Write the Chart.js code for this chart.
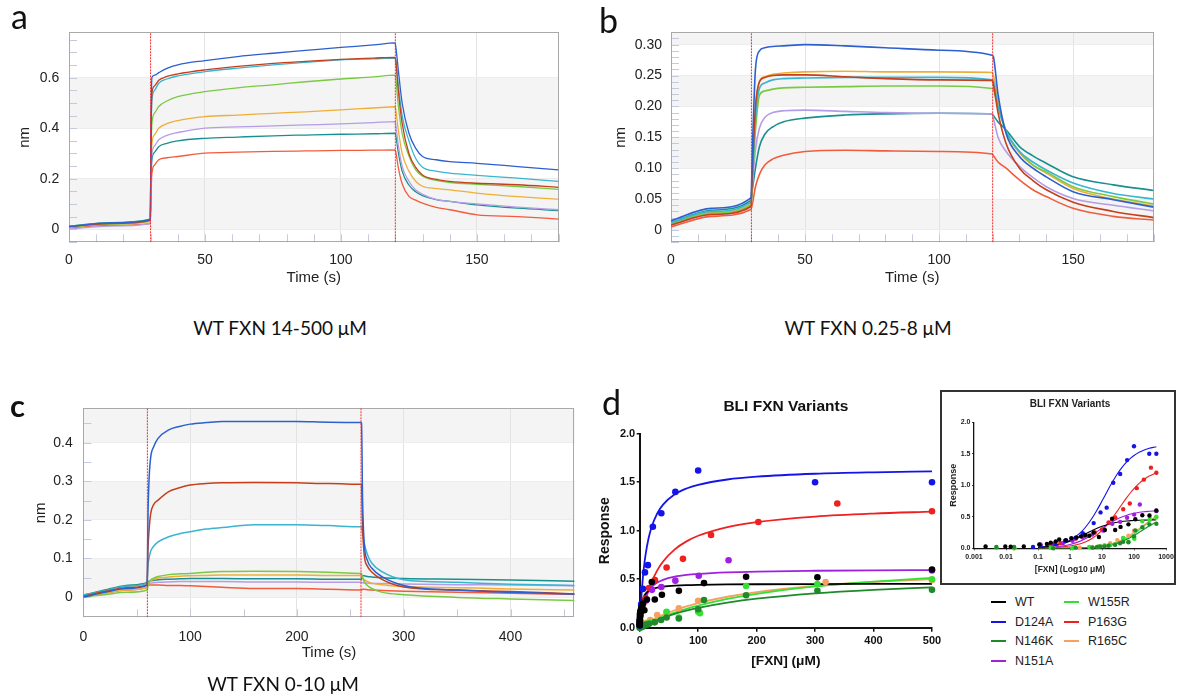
<!DOCTYPE html>
<html>
<head>
<meta charset="utf-8">
<script src="https://cdn.jsdelivr.net/npm/chart.js@4.4.1/dist/chart.umd.min.js"></script>
<style>
html,body{margin:0;padding:0;background:#fff;}
#root{position:relative;width:1177px;height:697px;overflow:hidden;background:#fff;font-family:'Liberation Sans',Arial,sans-serif;}
canvas{position:absolute;}
.letter{position:absolute;font-family:Lato,'Open Sans',sans-serif;line-height:1;color:#111;}
.cap{position:absolute;width:400px;text-align:center;font-family:Lato,'Open Sans',sans-serif;font-size:19px;line-height:1;color:#111;}
#insetbox{position:absolute;left:940px;top:390px;width:236px;height:195px;box-sizing:border-box;border:2px solid #333;background:#fff;z-index:1;}
#cInset{z-index:2;}
.legitem{position:absolute;height:16px;display:flex;align-items:center;font-family:'Liberation Sans',Arial,sans-serif;font-size:12.5px;color:#222;white-space:nowrap;}
.legline{display:inline-block;width:15px;height:2px;margin-right:9px;}
</style>
</head>
<body>
<div id="root">
  <canvas id="cA" width="590" height="300" style="left:0;top:0"></canvas>
  <canvas id="cB" width="587" height="300" style="left:590px;top:0"></canvas>
  <canvas id="cC" width="590" height="300" style="left:0;top:380px"></canvas>
  <canvas id="cD" width="370" height="310" style="left:590px;top:380px"></canvas>
  <div id="insetbox"></div>
  <canvas id="cInset" width="236" height="195" style="left:940px;top:390px"></canvas>
  <div id="legend"></div>
  <div class="letter" style="left:11px;top:-1px;font-size:34px">a</div>
  <div class="letter" style="left:599px;top:3px;font-size:34px">b</div>
  <div class="letter" style="left:10px;top:390px;font-size:31px;font-weight:bold">c</div>
  <div class="letter" style="left:602px;top:385px;font-size:34px">d</div>
  <div class="cap" style="left:80px;top:318px">WT FXN 14-500 μM</div>
  <div class="cap" style="left:668px;top:318px">WT FXN 0.25-8 μM</div>
  <div class="cap" style="left:83px;top:674px">WT FXN 0-10 μM</div>
</div>
<script>
// ---------------- Panel a data (time in s, response in nm) ----------------
const timeA = [0, 15, 29.9, 30.2, 30.5, 31.5, 33, 36, 40, 50, 62, 75, 87, 100, 112, 119.9, 120.2, 121, 122.5, 125, 127.5, 130, 135, 140, 150, 165, 180];
const aBlue     = [0.01, 0.025, 0.038, 0.45, 0.602, 0.61, 0.62, 0.637, 0.651, 0.668, 0.684, 0.697, 0.708, 0.72, 0.73, 0.738, 0.72, 0.64, 0.5, 0.38, 0.32, 0.288, 0.275, 0.268, 0.261, 0.248, 0.235];
const aBrown    = [0.01, 0.022, 0.035, 0.4, 0.54, 0.568, 0.59, 0.605, 0.615, 0.631, 0.645, 0.657, 0.665, 0.673, 0.678, 0.681, 0.665, 0.56, 0.42, 0.30, 0.245, 0.215, 0.197, 0.189, 0.182, 0.176, 0.166];
const aCyan     = [0.012, 0.024, 0.036, 0.38, 0.512, 0.55, 0.578, 0.595, 0.607, 0.624, 0.638, 0.651, 0.661, 0.671, 0.675, 0.678, 0.665, 0.58, 0.45, 0.35, 0.28, 0.245, 0.23, 0.222, 0.213, 0.202, 0.189];
const aGreen    = [0.008, 0.02, 0.033, 0.3, 0.42, 0.46, 0.486, 0.508, 0.525, 0.545, 0.56, 0.572, 0.584, 0.595, 0.603, 0.61, 0.595, 0.50, 0.38, 0.29, 0.235, 0.21, 0.193, 0.185, 0.178, 0.169, 0.158];
const aOrange   = [0.008, 0.02, 0.03, 0.25, 0.34, 0.375, 0.40, 0.418, 0.43, 0.446, 0.452, 0.459, 0.465, 0.473, 0.48, 0.485, 0.47, 0.40, 0.30, 0.23, 0.19, 0.17, 0.161, 0.156, 0.143, 0.129, 0.119];
const aLavender = [0.0, 0.012, 0.022, 0.22, 0.30, 0.33, 0.354, 0.372, 0.383, 0.40, 0.405, 0.409, 0.413, 0.417, 0.422, 0.426, 0.41, 0.34, 0.25, 0.19, 0.155, 0.138, 0.118, 0.11, 0.1, 0.087, 0.077];
const aTeal     = [0.012, 0.026, 0.04, 0.2, 0.275, 0.305, 0.327, 0.34, 0.35, 0.36, 0.365, 0.37, 0.373, 0.376, 0.378, 0.38, 0.37, 0.31, 0.23, 0.175, 0.148, 0.133, 0.117, 0.11, 0.096, 0.083, 0.074];
const aSalmon   = [0.005, 0.015, 0.022, 0.15, 0.222, 0.255, 0.275, 0.283, 0.288, 0.301, 0.305, 0.308, 0.31, 0.312, 0.313, 0.314, 0.305, 0.25, 0.18, 0.13, 0.115, 0.103, 0.086, 0.077, 0.057, 0.05, 0.04];
const stepsA = [30, 120];

// ---------------- Panel b data ----------------
const timeB = [0, 15, 29.8, 30.5, 31.5, 33, 35, 38, 42, 50, 65, 80, 100, 119.8, 120.3, 122, 125, 130, 135, 140, 150, 165, 180];
const bBlue     = [0.015, 0.035, 0.052, 0.15, 0.26, 0.29, 0.295, 0.297, 0.298, 0.300, 0.298, 0.295, 0.291, 0.283, 0.28, 0.22, 0.156, 0.119, 0.1, 0.086, 0.062, 0.049, 0.037];
const bOrange   = [0.01, 0.028, 0.042, 0.1, 0.19, 0.24, 0.248, 0.252, 0.254, 0.256, 0.257, 0.256, 0.256, 0.255, 0.25, 0.21, 0.16, 0.125, 0.105, 0.092, 0.067, 0.05, 0.039];
const bBrown    = [0.008, 0.025, 0.038, 0.11, 0.2, 0.24, 0.247, 0.25, 0.251, 0.251, 0.248, 0.245, 0.243, 0.242, 0.235, 0.19, 0.14, 0.1, 0.08, 0.065, 0.045, 0.03, 0.02];
const bCyan     = [0.012, 0.03, 0.045, 0.1, 0.18, 0.229, 0.238, 0.243, 0.245, 0.246, 0.247, 0.247, 0.247, 0.243, 0.24, 0.2, 0.16, 0.127, 0.11, 0.097, 0.076, 0.059, 0.05];
const bGreen    = [0.01, 0.027, 0.04, 0.09, 0.16, 0.218, 0.225, 0.228, 0.23, 0.231, 0.232, 0.233, 0.233, 0.229, 0.227, 0.2, 0.16, 0.127, 0.105, 0.094, 0.07, 0.054, 0.042];
const bLavender = [0.008, 0.025, 0.038, 0.08, 0.13, 0.165, 0.182, 0.19, 0.193, 0.194, 0.192, 0.19, 0.189, 0.188, 0.18, 0.15, 0.127, 0.103, 0.085, 0.07, 0.051, 0.04, 0.031];
const bTeal     = [0.012, 0.032, 0.048, 0.07, 0.1, 0.135, 0.155, 0.167, 0.175, 0.181, 0.186, 0.188, 0.189, 0.188, 0.185, 0.175, 0.162, 0.135, 0.12, 0.108, 0.086, 0.073, 0.064];
const bSalmon   = [0.005, 0.022, 0.033, 0.045, 0.07, 0.09, 0.105, 0.115, 0.121, 0.127, 0.129, 0.128, 0.127, 0.123, 0.12, 0.11, 0.1, 0.081, 0.065, 0.054, 0.035, 0.022, 0.016];
const stepsB = [30, 120];

// ---------------- Panel c data ----------------
const timeC = [0, 20, 40, 59.8, 60.5, 61.5, 63, 66, 70, 80, 90, 100, 115, 130, 160, 200, 230, 259.8, 260.5, 261.5, 263, 266, 270, 280, 300, 350, 400, 460];
const cBlue     = [0, 0.012, 0.022, 0.03, 0.2, 0.3, 0.36, 0.39, 0.411, 0.433, 0.442, 0.448, 0.452, 0.455, 0.455, 0.455, 0.453, 0.452, 0.45, 0.25, 0.14, 0.095, 0.075, 0.052, 0.03, 0.018, 0.012, 0.008];
const cBrown    = [0.002, 0.014, 0.024, 0.032, 0.12, 0.17, 0.215, 0.24, 0.251, 0.273, 0.283, 0.29, 0.294, 0.296, 0.297, 0.296, 0.294, 0.292, 0.29, 0.18, 0.11, 0.08, 0.065, 0.045, 0.026, 0.018, 0.014, 0.008];
const cCyan     = [0.005, 0.016, 0.028, 0.036, 0.08, 0.1, 0.118, 0.132, 0.143, 0.156, 0.164, 0.169, 0.176, 0.18, 0.187, 0.187, 0.185, 0.182, 0.182, 0.165, 0.14, 0.11, 0.088, 0.065, 0.045, 0.038, 0.033, 0.03];
const cGreen    = [0, 0.006, 0.012, 0.018, 0.03, 0.038, 0.044, 0.049, 0.053, 0.058, 0.06, 0.061, 0.064, 0.066, 0.067, 0.066, 0.064, 0.061, 0.061, 0.05, 0.04, 0.03, 0.022, 0.012, 0.006, -0.001, -0.005, -0.009];
const cOrange   = [0, 0.01, 0.018, 0.025, 0.033, 0.038, 0.042, 0.046, 0.049, 0.052, 0.054, 0.055, 0.056, 0.057, 0.057, 0.057, 0.056, 0.056, 0.056, 0.05, 0.045, 0.04, 0.036, 0.032, 0.027, 0.024, 0.021, 0.018];
const cTeal     = [0.005, 0.018, 0.03, 0.038, 0.04, 0.041, 0.042, 0.043, 0.045, 0.046, 0.047, 0.048, 0.048, 0.048, 0.047, 0.047, 0.046, 0.046, 0.046, 0.055, 0.055, 0.053, 0.052, 0.05, 0.048, 0.046, 0.044, 0.041];
const cLavender = [0.002, 0.012, 0.022, 0.03, 0.033, 0.035, 0.036, 0.037, 0.038, 0.039, 0.04, 0.04, 0.04, 0.04, 0.039, 0.039, 0.038, 0.038, 0.038, 0.037, 0.036, 0.036, 0.035, 0.035, 0.034, 0.032, 0.031, 0.029];
const cSalmon   = [0, 0.01, 0.018, 0.025, 0.03, 0.031, 0.031, 0.031, 0.031, 0.03, 0.03, 0.029, 0.027, 0.025, 0.022, 0.022, 0.02, 0.018, 0.018, 0.02, 0.02, 0.019, 0.018, 0.017, 0.015, 0.012, 0.01, 0.007];
const stepsC = [60, 260];

// ---------------- Panel d data ([FXN] in µM, response) ----------------
const variantNames = ['WT', 'D124A', 'N146K', 'N151A', 'W155R', 'P163G', 'R165C'];
const concWT    = [0.0023, 0.0095, 0.014, 0.036, 0.11, 0.19, 0.25, 0.36, 0.46, 0.75, 1.1, 1.6, 2.2, 3, 4, 5.5, 8, 12.3, 20.7, 25.8, 38, 67, 110, 182, 304, 500];
const respWT    = [0.03, 0.03, 0.025, 0.03, 0.06, 0.07, 0.09, 0.11, 0.14, 0.13, 0.16, 0.17, 0.19, 0.21, 0.2, 0.25, 0.18, 0.29, 0.47, 0.29, 0.34, 0.38, 0.46, 0.525, 0.52, 0.60];
const concD124A = [0.07, 0.12, 0.35, 0.7, 1.5, 2.5, 5.5, 9, 14, 22.5, 37, 61, 100, 300, 500];
const respD124A = [0.02, 0.04, 0.07, 0.12, 0.17, 0.24, 0.40, 0.57, 0.645, 1.04, 1.18, 1.40, 1.62, 1.50, 1.50];
const concN146K = [0.005, 0.018, 0.3, 1.5, 5, 7, 9, 12, 16, 25.8, 36.6, 46, 67, 100, 110, 182, 304, 500];
const respN146K = [0.02, 0.02, 0.0, 0.01, 0.01, 0.02, 0.03, 0.03, 0.04, 0.055, 0.08, 0.105, 0.095, 0.19, 0.285, 0.335, 0.38, 0.39];
const concN151A = [0.12, 0.3, 0.6, 1.2, 2.5, 5, 11, 21, 37, 61, 101, 152, 500];
const respN151A = [0.06, 0.07, 0.08, 0.12, 0.17, 0.22, 0.28, 0.39, 0.42, 0.485, 0.535, 0.695, 0.59];
const concW155R = [0.005, 0.018, 0.25, 1.2, 4, 8, 12, 18, 25, 46, 67, 100, 103, 182, 304, 500];
const respW155R = [0.01, 0.0, 0.01, 0.0, 0.02, 0.03, 0.04, 0.05, 0.06, 0.165, 0.105, 0.165, 0.15, 0.43, 0.45, 0.50];
const concP163G = [0.25, 0.5, 1.5, 3, 6, 10, 16, 26, 46, 74, 122, 203, 338, 500];
const respP163G = [0.05, 0.08, 0.15, 0.2, 0.25, 0.3, 0.41, 0.49, 0.62, 0.71, 0.955, 1.09, 1.28, 1.20];
const concR165C = [0.018, 0.3, 2, 5, 8, 12, 18, 30, 46, 67, 100, 318, 500];
const respR165C = [0.0, 0.01, 0.01, 0.02, 0.03, 0.05, 0.08, 0.13, 0.16, 0.2, 0.278, 0.47, 0.49];

// fitted curves, read at these concentrations
const curveConc = [0.1, 0.2, 0.5, 1, 2, 3, 5, 7, 10, 15, 20, 30, 40, 60, 80, 100, 150, 200, 300, 400, 500];
const fitWT    = [0.015, 0.028, 0.065, 0.114, 0.182, 0.228, 0.284, 0.319, 0.35, 0.379, 0.396, 0.414, 0.423, 0.433, 0.439, 0.442, 0.446, 0.448, 0.45, 0.451, 0.452];
const fitD124A = [0.014, 0.027, 0.066, 0.127, 0.236, 0.33, 0.485, 0.608, 0.75, 0.917, 1.031, 1.179, 1.269, 1.375, 1.435, 1.473, 1.528, 1.557, 1.587, 1.602, 1.611];
const fitN146K = [0.0003, 0.0006, 0.0016, 0.0032, 0.0063, 0.0094, 0.0156, 0.0215, 0.0303, 0.0442, 0.0574, 0.082, 0.104, 0.143, 0.176, 0.204, 0.258, 0.299, 0.354, 0.39, 0.415];
const fitN151A = [0.0066, 0.013, 0.032, 0.0605, 0.11, 0.151, 0.216, 0.265, 0.318, 0.378, 0.417, 0.465, 0.494, 0.526, 0.544, 0.555, 0.571, 0.579, 0.587, 0.592, 0.594];
const fitW155R = [0.0003, 0.0007, 0.0016, 0.0032, 0.0065, 0.0097, 0.016, 0.022, 0.031, 0.046, 0.06, 0.0865, 0.111, 0.155, 0.194, 0.227, 0.296, 0.349, 0.425, 0.476, 0.514];
const fitP163G = [0.0036, 0.0073, 0.018, 0.036, 0.069, 0.101, 0.16, 0.213, 0.284, 0.384, 0.465, 0.591, 0.683, 0.808, 0.89, 0.948, 1.038, 1.089, 1.146, 1.177, 1.196];
const fitR165C = [0.0004, 0.0008, 0.0021, 0.0041, 0.0081, 0.0121, 0.02, 0.0277, 0.0388, 0.0566, 0.0733, 0.104, 0.132, 0.18, 0.22, 0.254, 0.319, 0.367, 0.43, 0.471, 0.5];

// tick labels
const ticksTimeAB = [0, 50, 100, 150];
const ticksTimeC = [0, 100, 200, 300, 400];
const ticksNmA = [0, 0.2, 0.4, 0.6];
const ticksNmB = [0, 0.05, 0.10, 0.15, 0.20, 0.25, 0.30];
const ticksNmC = [0, 0.1, 0.2, 0.3, 0.4];
const ticksConc = [0, 100, 200, 300, 400, 500];
const ticksLogConc = [0.001, 0.01, 0.1, 1, 10, 100, 1000];
const ticksResp = [0, 0.5, 1.0, 1.5, 2.0];

// ---------------- styles ----------------
const traceColors = ['#2c5fcf', '#c4401c', '#3ab5cf', '#7ac943', '#efae3a', '#b49de6', '#198f8f', '#f25c3c'];
const variantColors = ['#000000', '#1414e6', '#1f8a2a', '#a020e0', '#33e033', '#ee2020', '#f5a060'];

Chart.defaults.font.family = "'Liberation Sans', Arial, Helvetica, sans-serif";
Chart.defaults.color = '#222';
Chart.defaults.animation = false;
Chart.defaults.events = [];
Chart.defaults.plugins.legend.display = false;
Chart.defaults.plugins.tooltip.enabled = false;

const decor = {
  id: 'decor',
  beforeDraw(chart, args, o) {
    if (!o || !o.on) return;
    const {ctx, chartArea: a} = chart;
    const y = chart.scales.y;
    ctx.save();
    ctx.fillStyle = o.bandColor;
    for (const [lo, hi] of o.bands) {
      const lo2 = Math.max(lo, y.min), hi2 = Math.min(hi, y.max);
      if (hi2 <= lo2) continue;
      const p1 = y.getPixelForValue(hi2), p0 = y.getPixelForValue(lo2);
      ctx.fillRect(a.left, p1, a.right - a.left, p0 - p1);
    }
    ctx.restore();
  },
  beforeDatasetsDraw(chart, args, o) {
    if (!o || !o.on) return;
    const {ctx, chartArea: a} = chart;
    const x = chart.scales.x, y = chart.scales.y;
    ctx.save();
    ctx.strokeStyle = o.minorColor;
    ctx.lineWidth = 1;
    ctx.beginPath();
    for (let k = Math.ceil(x.min / o.minorX); k * o.minorX <= x.max + 1e-9; k++) {
      const px = Math.round(x.getPixelForValue(k * o.minorX)) + 0.5;
      ctx.moveTo(px, a.bottom);
      ctx.lineTo(px, a.bottom - o.minorLen);
    }
    for (let k = Math.ceil(y.min / o.minorY); k * o.minorY <= y.max + 1e-9; k++) {
      const py = Math.round(y.getPixelForValue(k * o.minorY)) + 0.5;
      ctx.moveTo(a.left, py);
      ctx.lineTo(a.left + o.minorLen, py);
    }
    ctx.stroke();
    ctx.strokeStyle = o.frameColor;
    ctx.strokeRect(Math.round(a.left) + 0.5, Math.round(a.top) + 0.5, Math.round(a.right - a.left) - 1, Math.round(a.bottom - a.top) - 1);
    ctx.restore();
  }
};
Chart.register(decor);

function sensorChart(id, times, traces, steps, cfg) {
  const datasets = traces.map((ys, i) => ({
    data: times.map((t, j) => ({x: t, y: ys[j]})),
    borderColor: traceColors[i], borderWidth: cfg.lw, pointRadius: 0,
    cubicInterpolationMode: 'monotone', fill: false, order: 2
  }));
  // step markers (start of association / dissociation), drawn as dotted red verticals
  steps.forEach(t => datasets.push({
    data: [{x: t, y: cfg.yMin}, {x: t, y: cfg.yMax}],
    borderColor: 'rgb(245,45,45)', borderWidth: 1, borderDash: [2, 1], pointRadius: 0, fill: false, order: 1
  }));
  return new Chart(document.getElementById(id), {
    type: 'line',
    data: {datasets},
    options: {
      responsive: false, devicePixelRatio: 1,
      layout: {padding: cfg.padding},
      plugins: {decor: {on: true, bands: cfg.bands, bandColor: '#f4f4f4', minorX: cfg.minorX, minorY: cfg.minorY,
                        minorLen: 8, minorColor: '#c3cadb', frameColor: '#a9a9a9'}},
      scales: {
        x: {type: 'linear', min: cfg.xMin, max: cfg.xMax,
            afterFit: s => { s.height = cfg.xH; },
            afterBuildTicks: s => { s.ticks = cfg.xTicks.map(v => ({value: v})); },
            grid: {color: '#e3e3e3', drawTicks: false}, border: {display: false},
            ticks: {padding: cfg.xPad, autoSkip: false, maxRotation: 0, font: {size: 14}, color: '#222', callback: v => String(v)},
            title: {display: true, text: 'Time (s)', font: {size: 15}, color: '#222', padding: 0}},
        y: {type: 'linear', min: cfg.yMin, max: cfg.yMax,
            afterFit: s => { s.width = cfg.yW; },
            afterBuildTicks: s => { s.ticks = cfg.yTicks.map(v => ({value: v})); },
            grid: {color: '#ededed', drawTicks: false}, border: {display: false},
            ticks: {padding: cfg.yPad, autoSkip: false, font: {size: 14}, color: '#222', callback: cfg.yFmt},
            title: {display: true, text: 'nm', font: {size: 15}, color: '#222', padding: {top: cfg.yTitlePad, bottom: 0}}}
      }
    }
  });
}

sensorChart('cA', timeA, [aBlue, aBrown, aCyan, aGreen, aOrange, aLavender, aTeal, aSalmon], stepsA, {
  padding: {left: 0, top: 32.3, right: 31.5, bottom: 12.7}, xH: 45, yW: 69, lw: 1.3,
  xMin: 0, xMax: 180, xTicks: ticksTimeAB, yMin: -0.052, yMax: 0.78, yTicks: ticksNmA,
  yFmt: v => v === 0 ? '0' : v.toFixed(1), xPad: 9.6, yPad: 9.7, yTitlePad: 16,
  bands: [[0, 0.2], [0.4, 0.6]], minorX: 10, minorY: 0.05
});
sensorChart('cB', timeB, [bBlue, bBrown, bCyan, bGreen, bOrange, bLavender, bTeal, bSalmon], stepsB, {
  padding: {left: 0, top: 32.3, right: 23.5, bottom: 12.7}, xH: 45, yW: 81, lw: 1.6,
  xMin: 0, xMax: 180, xTicks: ticksTimeAB, yMin: -0.02, yMax: 0.32, yTicks: ticksNmB,
  yFmt: v => v === 0 ? '0' : v.toFixed(2), xPad: 9.6, yPad: 9, yTitlePad: 22.3,
  bands: [[0, 0.05], [0.1, 0.15], [0.2, 0.25], [0.3, 0.35]], minorX: 10, minorY: 0.01
});
sensorChart('cC', timeC, [cBlue, cBrown, cCyan, cGreen, cOrange, cLavender, cTeal, cSalmon], stepsC, {
  padding: {left: 0, top: 28.3, right: 15.4, bottom: 17.7}, xH: 45, yW: 83.3, lw: 1.5,
  xMin: 0, xMax: 460, xTicks: ticksTimeC, yMin: -0.0526, yMax: 0.489, yTicks: ticksNmC,
  yFmt: v => v === 0 ? '0' : v.toFixed(1), xPad: 11, yPad: 10.6, yTitlePad: 31.7,
  bands: [[0, 0.1], [0.2, 0.3], [0.4, 0.5]], minorX: 50, minorY: 0.05
});

// ---------------- Panel d ----------------
const concs = [concWT, concD124A, concN146K, concN151A, concW155R, concP163G, concR165C];
const resps = [respWT, respD124A, respN146K, respN151A, respW155R, respP163G, respR165C];
const fits = [fitWT, fitD124A, fitN146K, fitN151A, fitW155R, fitP163G, fitR165C];

function bindingDatasets(r, w) {
  const dots = variantNames.map((n, i) => ({
    type: 'scatter', label: n, data: concs[i].map((c, j) => ({x: c, y: resps[i][j]})),
    backgroundColor: variantColors[i], borderWidth: 0, pointRadius: r, showLine: false, clip: false, order: 1
  }));
  const lines = variantNames.map((n, i) => ({
    type: 'line', label: n + ' fit', data: curveConc.map((c, j) => ({x: c, y: fits[i][j]})),
    borderColor: variantColors[i], borderWidth: w, pointRadius: 0, showLine: true, fill: false,
    cubicInterpolationMode: 'monotone', order: 2
  }));
  return dots.concat(lines);
}

function axisStyle(tickLen, lw) {
  return {
    grid: {drawOnChartArea: false, drawTicks: true, tickLength: tickLen, color: '#111', lineWidth: lw},
    border: {color: '#111', width: lw + 0.5}
  };
}

new Chart(document.getElementById('cD'), {
  type: 'scatter',
  data: {datasets: bindingDatasets(3.3, 1.8)},
  options: {
    responsive: false, devicePixelRatio: 1,
    layout: {padding: {left: 0, top: 0, right: 28, bottom: 20.8}},
    plugins: {title: {display: true, text: 'BLI FXN Variants', fullSize: false, color: '#111',
                      font: {size: 15.5, weight: 'bold'}, padding: {top: 17.4, bottom: 17.7}}},
    scales: {
      x: Object.assign({type: 'linear', min: 0, max: 500,
          afterFit: s => { s.height = 41.5; },
          afterBuildTicks: s => { s.ticks = ticksConc.map(v => ({value: v})); },
          ticks: {padding: 2.7, autoSkip: false, maxRotation: 0, color: '#111', font: {size: 11, weight: 'bold'}},
          title: {display: true, text: '[FXN] (μM)', color: '#111', font: {size: 13.7, weight: 'bold'}, padding: 0}},
          axisStyle(4, 1.5)),
      y: Object.assign({type: 'linear', min: 0, max: 2,
          afterFit: s => { s.width = 49.7; },
          afterBuildTicks: s => { s.ticks = ticksResp.map(v => ({value: v})); },
          ticks: {padding: 1.5, autoSkip: false, color: '#111', font: {size: 11, weight: 'bold'}, callback: v => v.toFixed(1)},
          title: {display: true, text: 'Response', color: '#111', font: {size: 14, weight: 'bold'}, padding: {top: 6.9, bottom: 0}}},
          axisStyle(3, 1.5))
    }
  }
});

new Chart(document.getElementById('cInset'), {
  type: 'scatter',
  data: {datasets: bindingDatasets(2.2, 1.1)},
  options: {
    responsive: false, devicePixelRatio: 1,
    layout: {padding: {left: 0, top: 0, right: 10, bottom: 10.3}},
    plugins: {title: {display: true, text: 'BLI FXN Variants', fullSize: false, color: '#222',
                      font: {size: 10, weight: 'bold'}, padding: {top: 8, bottom: 12.3}}},
    scales: {
      x: Object.assign({type: 'logarithmic', min: 0.001, max: 1000,
          afterFit: s => { s.height = 26.4; },
          afterBuildTicks: s => { s.ticks = ticksLogConc.map(v => ({value: v})); },
          ticks: {padding: 2.2, autoSkip: false, maxRotation: 0, color: '#222', font: {size: 7, weight: 'bold'}, callback: v => String(v)},
          title: {display: true, text: '[FXN] (Log10 μM)', color: '#222', font: {size: 8.5, weight: 'bold'}, padding: 0}},
          axisStyle(2, 0.8)),
      y: Object.assign({type: 'linear', min: 0, max: 2,
          afterFit: s => { s.width = 34; },
          afterBuildTicks: s => { s.ticks = ticksResp.map(v => ({value: v})); },
          ticks: {padding: 1.5, autoSkip: false, color: '#222', font: {size: 7, weight: 'bold'}, callback: v => v.toFixed(1)},
          title: {display: true, text: 'Response', color: '#222', font: {size: 9, weight: 'bold'}, padding: {top: 7.9, bottom: 0}}},
          axisStyle(2, 0.8))
    }
  }
});

// legend (two columns, filled top to bottom)
const legend = document.getElementById('legend');
variantNames.forEach((n, i) => {
  const col = i < 4 ? 0 : 1, row = i < 4 ? i : i - 4;
  const item = document.createElement('div');
  item.className = 'legitem';
  item.style.left = (col ? 1064 : 991) + 'px';
  item.style.top = (601.7 + row * 19.8 - 8) + 'px';
  const line = document.createElement('span');
  line.className = 'legline';
  line.style.background = variantColors[i];
  const txt = document.createElement('span');
  txt.textContent = n;
  item.appendChild(line);
  item.appendChild(txt);
  legend.appendChild(item);
});
</script>
</body>
</html>
